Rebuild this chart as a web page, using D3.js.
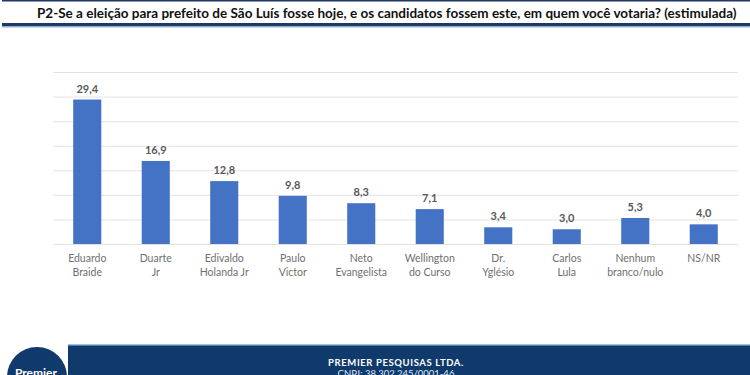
<!DOCTYPE html>
<html>
<head>
<meta charset="utf-8">
<script src="https://cdn.jsdelivr.net/npm/d3@7"></script>
<style>
  body { margin: 0; background: #fff; }
  svg { display: block; font-family: Lato, "Open Sans", sans-serif; }
  .title { font-weight: 700; font-size: 13.5px; fill: #111; }
  .value-label { font-weight: 700; font-size: 11px; fill: #595959; }
  .cat-label { font-size: 10.5px; fill: #6f6f6f; }
  .grid line { stroke: #e3e3e3; stroke-width: 1; }
</style>
</head>
<body>
<div id="chart"></div>
<script>
const categories = ["Eduardo Braide", "Duarte Jr", "Edivaldo Holanda Jr", "Paulo Victor", "Neto Evangelista",
  "Wellington do Curso", "Dr. Yglésio", "Carlos Lula", "Nenhum branco/nulo", "NS/NR"];
const labelLines = [["Eduardo", "Braide"], ["Duarte", "Jr"], ["Edivaldo", "Holanda Jr"], ["Paulo", "Victor"],
  ["Neto", "Evangelista"], ["Wellington", "do Curso"], ["Dr.", "Yglésio"], ["Carlos", "Lula"],
  ["Nenhum", "branco/nulo"], ["NS/NR"]];
const values = [29.4, 16.9, 12.8, 9.8, 8.3, 7.1, 3.4, 3.0, 5.3, 4.0];
const gridTicks = [0, 5, 10, 15, 20, 25, 30, 35];

const width = 750;
const height = 375;
const margin = { top: 72, right: 12, bottom: 131, left: 53 };
const innerWidth = width - margin.left - margin.right;
const innerHeight = height - margin.top - margin.bottom;

const svg = d3.select("#chart")
  .append("svg")
  .attr("width", width)
  .attr("height", height);

// header
svg.append("rect").attr("x", 2).attr("y", 0).attr("width", width).attr("height", 1.5).attr("fill", "#1f3864");
svg.append("text")
  .attr("class", "title")
  .attr("x", 37)
  .attr("y", 18)
  .text("P2-Se a eleição para prefeito de São Luís fosse hoje, e os candidatos fossem este, em quem você votaria? (estimulada)");
svg.append("rect").attr("x", 2).attr("y", 23).attr("width", width).attr("height", 3).attr("fill", "#1f3864");
svg.append("rect").attr("x", 2).attr("y", 26).attr("width", width).attr("height", 1.5).attr("fill", "#8fb0d8");

const g = svg.append("g")
  .attr("transform", `translate(${margin.left},${margin.top})`);

const x = d3.scaleBand()
  .domain(categories)
  .range([0, innerWidth])
  .paddingInner(0.59)
  .paddingOuter(0.295);

const y = d3.scaleLinear()
  .domain([0, 35])
  .range([innerHeight, 0]);

g.append("g")
  .attr("class", "grid")
  .call(d3.axisLeft(y).tickValues(gridTicks).tickSize(-innerWidth).tickFormat(""))
  .call(s => s.select(".domain").remove());

g.selectAll(".bar")
  .data(values)
  .join("rect")
  .attr("class", "bar")
  .attr("x", (d, i) => x(categories[i]))
  .attr("y", d => y(d))
  .attr("width", x.bandwidth())
  .attr("height", d => innerHeight - y(d))
  .attr("fill", "#4472c4");

g.selectAll(".value-label")
  .data(values)
  .join("text")
  .attr("class", "value-label")
  .attr("x", (d, i) => x(categories[i]) + x.bandwidth() / 2)
  .attr("y", d => y(d) - 7)
  .attr("text-anchor", "middle")
  .text(d => d.toFixed(1).replace(".", ","));

const cats = g.selectAll(".cat-label")
  .data(labelLines)
  .join("text")
  .attr("class", "cat-label")
  .attr("text-anchor", "middle")
  .attr("x", (d, i) => x(categories[i]) + x.bandwidth() / 2)
  .attr("y", innerHeight + 18);
cats.selectAll("tspan")
  .data(d => d)
  .join("tspan")
  .attr("x", function () { return d3.select(this.parentNode).attr("x"); })
  .attr("dy", (d, i) => i === 0 ? 0 : 14)
  .text(d => d);

// footer
svg.append("rect").attr("x", 68).attr("y", 345).attr("width", width - 68).attr("height", 30).attr("fill", "#0f3a6b");
svg.append("rect").attr("x", 68).attr("y", 344).attr("width", width - 68).attr("height", 1.5).attr("fill", "#9cc3e6");
svg.append("circle").attr("cx", 37).attr("cy", 377).attr("r", 30).attr("fill", "#0f3a6b");
svg.append("text")
  .attr("x", 36).attr("y", 377)
  .attr("text-anchor", "middle")
  .attr("fill", "#fff")
  .attr("font-size", 12)
  .attr("font-weight", 700)
  .text("Premier");
svg.append("text")
  .attr("x", 396).attr("y", 366)
  .attr("text-anchor", "middle")
  .attr("fill", "#fff")
  .attr("font-size", 9.5)
  .attr("font-weight", 700)
  .attr("letter-spacing", 0.6)
  .text("PREMIER PESQUISAS LTDA.");
svg.append("text")
  .attr("x", 396).attr("y", 377)
  .attr("text-anchor", "middle")
  .attr("fill", "#dfe8f3")
  .attr("font-size", 9.5)
  .text("CNPJ: 38.302.245/0001-46");
</script>
</body>
</html>
